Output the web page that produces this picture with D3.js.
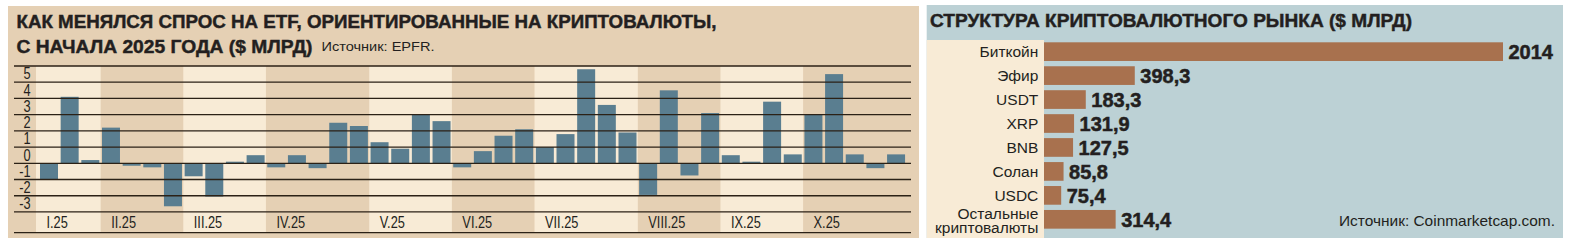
<!DOCTYPE html>
<html><head><meta charset="utf-8">
<script src="https://cdn.jsdelivr.net/npm/d3@7"></script>
<style>
html,body{margin:0;padding:0;background:#fff;}
svg{display:block;}
</style></head>
<body>
<svg id="c" width="1571" height="243"></svg>
<script>
// ---- Left chart data: weekly flows into crypto ETFs ($ bn) ----
const weeklyFlows = [-1.0, 4.1, 0.2, 2.2, -0.15, -0.25, -2.65, -0.8, -2.05, 0.1, 0.5,
  -0.25, 0.5, -0.3, 2.5, 2.3, 1.3, 0.9, 3.0, 2.6, -0.25, 0.75, 1.7, 2.1, 1.0, 1.8,
  5.8, 3.6, 1.9, -1.95, 4.5, -0.75, 3.1, 0.5, 0.1, 3.8, 0.55, 3.0, 5.5, 0.55, -0.3, 0.55];
const monthLabels = ["I.25","II.25","III.25","IV.25","V.25","VI.25","VII.25","VIII.25","IX.25","X.25"];
const weeksPerMonth = [3,4,4,5,4,4,5,4,4,5];
const yTicks = [-3,-2,-1,0,1,2,3,4,5];

// ---- Right chart data: crypto market structure ($ bn) ----
const coins = ["Биткойн","Эфир","USDT","XRP","BNB","Солан","USDC","Остальные криптовалюты"];
const caps = [2014, 398.3, 183.3, 131.9, 127.5, 85.8, 75.4, 314.4];
const capLabels = ["2014","398,3","183,3","131,9","127,5","85,8","75,4","314,4"];

const svg = d3.select("#c");
const dark = "#231f20";
const FONT = "'Liberation Sans', Arial, sans-serif";

// ================= LEFT PANEL =================
svg.append("rect").attr("x",8).attr("y",6).attr("width",911).attr("height",232).attr("fill","#e5d0b4");

const x = d3.scaleBand().domain(d3.range(weeklyFlows.length))
  .range([38.67, 906.4]).paddingInner(0.129).paddingOuter(0.0645);
const y = d3.scaleLinear().domain([-3, 6]).range([211.95, 66]);
const gap = x.step() - x.bandwidth();

// month bands
let start = 0;
const months = monthLabels.map((m,i)=>{
  const o = {label:m, first:start, last:start+weeksPerMonth[i]-1, i};
  start += weeksPerMonth[i];
  return o;
});
months.forEach(m=>{
  m.x0 = m.i===0 ? 36 : x(m.first) - gap/2;
  m.x1 = m.i===months.length-1 ? 911 : x(m.last) + x.bandwidth() + gap/2;
});
svg.append("g").selectAll("rect").data(months.filter(m=>m.i%2===0)).join("rect")
  .attr("x", d=>d.x0).attr("width", d=>d.x1-d.x0)
  .attr("y", y(6)).attr("height", 232.7 - y(6))
  .attr("fill", "#f8ebd6");

// bars
svg.append("g").selectAll("rect").data(weeklyFlows).join("rect")
  .attr("x", (d,i)=>x(i)).attr("width", x.bandwidth())
  .attr("y", d=>y(Math.max(0,d))).attr("height", d=>Math.abs(y(d)-y(0)))
  .attr("fill", "#5a7e90");

// gridlines
const gridVals = d3.range(-3, 7);
svg.append("g").selectAll("line").data(gridVals).join("line")
  .attr("x1", 14).attr("x2", 911)
  .attr("y1", d=>y(d)).attr("y2", d=>y(d))
  .attr("stroke", "#2b2116").attr("stroke-width", 1.3);
svg.append("line").attr("x1",14).attr("x2",911).attr("y1",232.7).attr("y2",232.7)
  .attr("stroke","#2b2116").attr("stroke-width",1.3);

// y labels (condensed)
svg.append("g").selectAll("text").data(yTicks).join("text")
  .attr("transform", d=>`translate(30.5,${y(d)-2.8}) scale(0.8,1)`)
  .attr("text-anchor","end").attr("font-family",FONT).attr("font-size",16)
  .attr("fill", dark).text(d=>d);

// month labels
svg.append("g").selectAll("text").data(months).join("text")
  .attr("transform", d=>`translate(${d.x0+10.5},228.3) scale(0.8,1)`)
  .attr("font-family",FONT).attr("font-size",16).attr("fill",dark).text(d=>d.label);

// title
function title(xp, yp, len, txt){
  svg.append("text").attr("x",xp).attr("y",yp).attr("font-family",FONT).attr("font-weight","bold")
    .attr("font-size",18.5).attr("fill",dark).attr("stroke",dark).attr("stroke-width",0.45)
    .attr("textLength",len).attr("lengthAdjust","spacingAndGlyphs").text(txt);
}
title(16.5, 28, 700, "КАК МЕНЯЛСЯ СПРОС НА ETF, ОРИЕНТИРОВАННЫЕ НА КРИПТОВАЛЮТЫ,");
title(16.5, 52.7, 296, "С НАЧАЛА 2025 ГОДА ($ МЛРД)");
svg.append("text").attr("x",321.5).attr("y",51).attr("font-family",FONT)
  .attr("font-size",13.5).attr("fill",dark).attr("textLength",113).attr("lengthAdjust","spacingAndGlyphs")
  .text("Источник: EPFR.");

// ================= RIGHT PANEL =================
svg.append("rect").attr("x",926.7).attr("y",5).attr("width",636.3).attr("height",233).attr("fill","#bcd1d5");
svg.append("rect").attr("x",926.7).attr("y",40).attr("width",1044-926.7).attr("height",198).attr("fill","#f8ebd6");

title(930, 27, 482, "СТРУКТУРА КРИПТОВАЛЮТНОГО РЫНКА ($ МЛРД)");

const xr = d3.scaleLinear().domain([0, 2014]).range([1044, 1503]);
const yr = d3.scaleBand().domain(coins).range([39.67, 231.3]).paddingInner(0.22).paddingOuter(0.11);

svg.append("g").selectAll("rect").data(coins).join("rect")
  .attr("x", xr(0)).attr("y", d=>yr(d))
  .attr("width", (d,i)=>xr(caps[i])-xr(0)).attr("height", yr.bandwidth())
  .attr("fill", "#a8714e");

// values
svg.append("g").selectAll("text").data(coins).join("text")
  .attr("x", (d,i)=>xr(caps[i]) + 5.5)
  .attr("y", d=>yr(d) + yr.bandwidth()/2 + 7.3)
  .attr("font-family",FONT).attr("font-weight","bold").attr("font-size",20)
  .attr("fill",dark).attr("stroke",dark).attr("stroke-width",0.5).text((d,i)=>capLabels[i]);

// category labels
const lab = svg.append("g").selectAll("text").data(coins).join("text")
  .attr("text-anchor","end").attr("font-family",FONT).attr("font-size",15.5).attr("fill",dark);
lab.each(function(d){
  const t = d3.select(this);
  const cy = yr(d) + yr.bandwidth()/2;
  const parts = d.split(" ");
  if (parts.length === 1) {
    t.append("tspan").attr("x",1038.3).attr("y",cy+5.5).text(d);
  } else {
    t.append("tspan").attr("x",1038.3).attr("y",cy-5.2+5.3).text(parts[0]);
    t.append("tspan").attr("x",1038.3).attr("y",cy+8.8+5.3).text(parts[1]);
  }
});

svg.append("text").attr("x",1555).attr("y",225.5).attr("text-anchor","end")
  .attr("font-family",FONT).attr("font-size",15).attr("fill",dark)
  .attr("textLength",216).attr("lengthAdjust","spacingAndGlyphs")
  .text("Источник: Coinmarketcap.com.");
</script>
</body></html>
